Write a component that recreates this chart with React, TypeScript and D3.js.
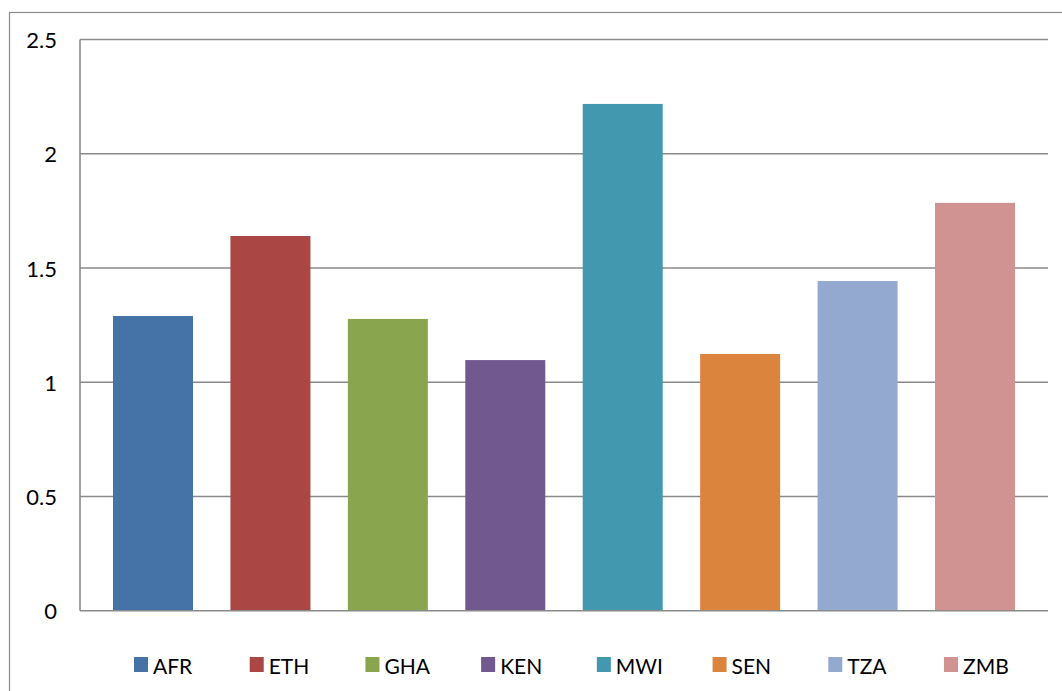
import React from "react";
import * as d3 from "d3";

const categories = ["AFR", "ETH", "GHA", "KEN", "MWI", "SEN", "TZA", "ZMB"];
const values = [1.29, 1.64, 1.277, 1.097, 2.218, 1.124, 1.443, 1.785];
const colors = ["#4572A7", "#AA4643", "#89A54E", "#71588F", "#4198AF", "#DB843D", "#93A9CF", "#D19392"];
const yTicks = [0, 0.5, 1, 1.5, 2, 2.5];

const W = 1062;
const H = 691;
const plotLeft = 80;
const plotRight = 1048;
const plotTop = 39.5;
const plotBottom = 610.75;
const font = "Lato, 'Liberation Sans', sans-serif";

export default function App() {
  const y = d3.scaleLinear().domain([0, 2.5]).range([plotBottom, plotTop]);
  const step = 117.43;
  const x = d3
    .scaleBand<string>()
    .domain(categories)
    .range([153 - step / 2, 153 - step / 2 + step * categories.length])
    .paddingInner(1 - 80 / step)
    .paddingOuter((1 - 80 / step) / 2);
  const legendX = d3
    .scalePoint<string>()
    .domain(categories)
    .range([134, 944]);

  return (
    <svg
      width={W}
      height={H}
      style={{ position: "absolute", left: 0, top: 0, background: "#fff" }}
      fontFamily={font}
    >
      <rect x={9.5} y={12.5} width={W + 20} height={H + 20} fill="#fff" stroke="#8c8c8c" strokeWidth={1.2} />
      {yTicks.map((t) => (
        <g key={t}>
          {t > 0 && (
            <line x1={plotLeft} x2={plotRight} y1={y(t)} y2={y(t)} stroke="#8a8a8a" strokeWidth={1.6} />
          )}
          <text
            x={57}
            y={y(t)}
            textAnchor="end"
            dominantBaseline="central"
            fontSize={22}
            fill="#000"
          >
            {String(t)}
          </text>
        </g>
      ))}
      {categories.map((c, i) => (
        <rect
          key={c}
          x={x(c)}
          y={y(values[i])}
          width={x.bandwidth()}
          height={y(0) - y(values[i])}
          fill={colors[i]}
        />
      ))}
      <line x1={plotLeft} x2={plotLeft} y1={plotTop} y2={plotBottom} stroke="#8a8a8a" strokeWidth={1.6} />
      <line x1={plotLeft} x2={plotRight} y1={plotBottom} y2={plotBottom} stroke="#8a8a8a" strokeWidth={1.6} />
      {categories.map((c, i) => (
        <g key={"lg" + c} transform={`translate(${legendX(c)},0)`}>
          <rect x={0} y={657} width={14} height={15} fill={colors[i]} />
          <text x={19} y={665} dominantBaseline="central" fontSize={21} fill="#000">
            {c}
          </text>
        </g>
      ))}
    </svg>
  );
}
